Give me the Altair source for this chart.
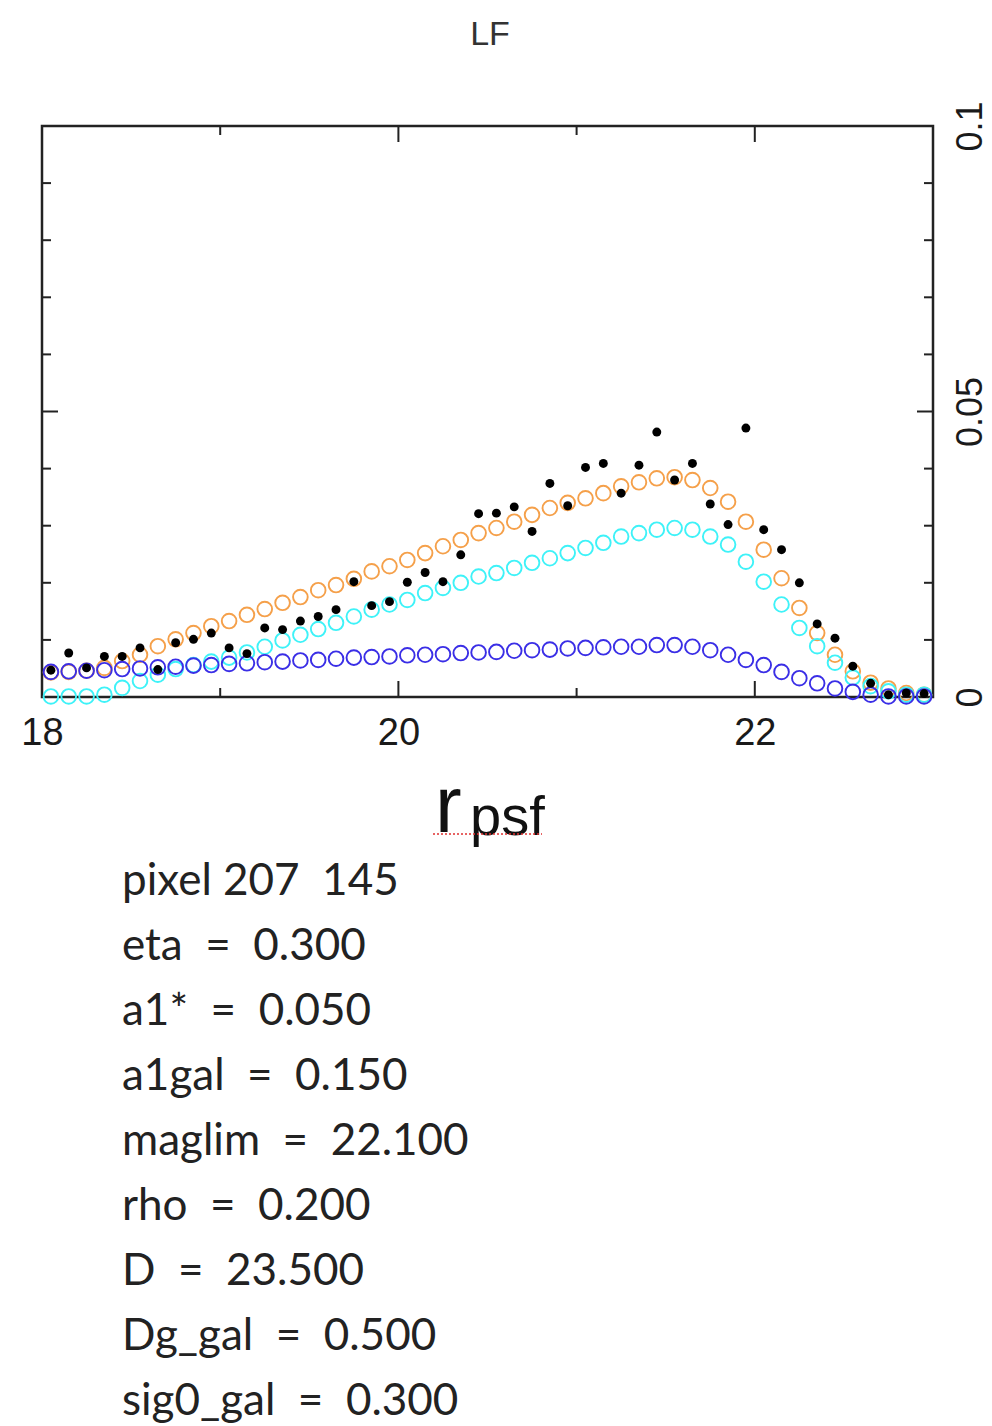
import altair as alt
import pandas as pd

# ---- data ----
r_bins = [18.05, 18.15, 18.25, 18.35, 18.45, 18.55, 18.65, 18.75, 18.85, 18.95,
          19.05, 19.15, 19.25, 19.35, 19.45, 19.55, 19.65, 19.75, 19.85, 19.95,
          20.05, 20.15, 20.25, 20.35, 20.45, 20.55, 20.65, 20.75, 20.85, 20.95,
          21.05, 21.15, 21.25, 21.35, 21.45, 21.55, 21.65, 21.75, 21.85, 21.95,
          22.05, 22.15, 22.25, 22.35, 22.45, 22.55, 22.65, 22.75, 22.85, 22.95]

model_total = [0.0043, 0.0044, 0.0046, 0.0051, 0.0063, 0.0074, 0.0089, 0.0101, 0.0112, 0.0124,
               0.0133, 0.0144, 0.0154, 0.0165, 0.0175, 0.0187, 0.0196, 0.0207, 0.0220, 0.0229,
               0.0240, 0.0252, 0.0264, 0.0275, 0.0287, 0.0296, 0.0307, 0.0319, 0.0331, 0.0340,
               0.0348, 0.0357, 0.0369, 0.0376, 0.0383, 0.0385, 0.0380, 0.0366, 0.0342, 0.0307,
               0.0258, 0.0208, 0.0156, 0.0112, 0.0074, 0.0045, 0.0025, 0.0015, 0.0007, 0.0004]

model_gal = [0.0001, 0.0001, 0.0001, 0.0004, 0.0016, 0.0028, 0.0039, 0.0049, 0.0056, 0.0062,
             0.0069, 0.0078, 0.0088, 0.0099, 0.0109, 0.0119, 0.0130, 0.0141, 0.0153, 0.0162,
             0.0170, 0.0182, 0.0191, 0.0200, 0.0211, 0.0217, 0.0226, 0.0235, 0.0243, 0.0252,
             0.0261, 0.0270, 0.0281, 0.0287, 0.0293, 0.0296, 0.0293, 0.0281, 0.0267, 0.0237,
             0.0202, 0.0162, 0.0121, 0.0089, 0.0060, 0.0034, 0.0019, 0.0010, 0.0004, 0.0004]

model_star = [0.0044, 0.0045, 0.0046, 0.0047, 0.0049, 0.0050, 0.0052, 0.0053, 0.0055, 0.0056,
              0.0058, 0.0059, 0.0061, 0.0062, 0.0064, 0.0065, 0.0067, 0.0069, 0.0070, 0.0071,
              0.0073, 0.0074, 0.0075, 0.0077, 0.0078, 0.0079, 0.0081, 0.0082, 0.0083, 0.0085,
              0.0086, 0.0087, 0.0088, 0.0088, 0.0091, 0.0091, 0.0088, 0.0082, 0.0074, 0.0065,
              0.0056, 0.0044, 0.0033, 0.0024, 0.0015, 0.0009, 0.0004, 0.0001, 0.0001, 0.0001]

observed = [0.0047, 0.0077, 0.0051, 0.0071, 0.0071, 0.0086, 0.0048, 0.0095, 0.0101, 0.0112,
            0.0086, 0.0076, 0.0121, 0.0118, 0.0133, 0.0141, 0.0153, 0.0202, 0.0160, 0.0167,
            0.0201, 0.0218, 0.0202, 0.0249, 0.0321, 0.0322, 0.0333, 0.0290, 0.0374, 0.0335,
            0.0402, 0.0409, 0.0357, 0.0406, 0.0464, 0.0380, 0.0409, 0.0338, 0.0302, 0.0471,
            0.0293, 0.0258, 0.0200, 0.0128, 0.0103, 0.0054, 0.0024, 0.0004, 0.0007, 0.0006]

x_label_values = [18, 20, 22]
x_major_ticks = [20, 22]
x_minor_ticks = [19, 21]
y_label_values = [0, 0.05, 0.1]
y_major_ticks = [0.05]
y_minor_ticks = [0.01, 0.02, 0.03, 0.04, 0.06, 0.07, 0.08, 0.09]

title_text = "LF"
xtitle_main = "r"
xtitle_sub = "psf"
NB = "\u00a0"
info_lines = [f"pixel 207{NB} 145", f"eta{NB} ={NB} 0.300", f"a1*{NB} ={NB} 0.050",
              f"a1gal{NB} ={NB} 0.150", f"maglim{NB} ={NB} 22.100", f"rho{NB} ={NB} 0.200",
              f"D{NB} ={NB} 23.500", f"Dg_gal{NB} ={NB} 0.500", f"sig0_gal{NB} ={NB} 0.300"]

# ---- chart ----
W, H = 891, 571
df = pd.DataFrame({"r": r_bins, "total": model_total, "gal": model_gal,
                   "star": model_star, "obs": observed})

xscale = alt.Scale(domain=[18, 23], nice=False, zero=False)
yscale = alt.Scale(domain=[0, 0.1], nice=False, zero=False)
xaxis = alt.Axis(values=x_label_values, format="d", title=None, ticks=False, domain=False,
                 grid=False, labelFontSize=38, labelFont="Liberation Sans", labelColor="#1a1a1a",
                 labelPadding=17, labelBaseline="top", labelAlign="center", labelFlush=False)
yaxis = alt.Axis(values=y_label_values, format="~g", orient="right", title=None, ticks=False,
                 domain=False, grid=False, labelFontSize=36, labelFont="Liberation Sans",
                 labelColor="#1a1a1a", labelAngle=270, labelAlign="center", labelBaseline="top",
                 labelPadding=20, labelFlush=False)

base = alt.Chart(df)


def circles(field, color):
    return base.mark_point(shape="circle", filled=False, size=215, strokeWidth=1.9,
                           color=color, opacity=1).encode(
        x=alt.X("r:Q", scale=xscale, axis=xaxis),
        y=alt.Y(f"{field}:Q", scale=yscale, axis=yaxis),
    )


orange = circles("total", "#f5a04a")
cyan = circles("gal", "#3ef2f8")
blue = circles("star", "#3a2ee6")
black = base.mark_point(shape="circle", filled=True, size=80, color="#000000", opacity=1).encode(
    x=alt.X("r:Q", scale=xscale, axis=xaxis),
    y=alt.Y("obs:Q", scale=yscale, axis=yaxis),
)


def xticks(vals, length):
    d = pd.DataFrame({"v": vals})
    bottom = alt.Chart(d).mark_rule(color="#222", strokeWidth=2).encode(
        x=alt.X("v:Q", scale=xscale, axis=xaxis), y=alt.value(H), y2=alt.value(H - length))
    top = alt.Chart(d).mark_rule(color="#222", strokeWidth=2).encode(
        x=alt.X("v:Q", scale=xscale, axis=xaxis), y=alt.value(0), y2=alt.value(length))
    return bottom + top


def yticks(vals, length):
    d = pd.DataFrame({"v": vals})
    left = alt.Chart(d).mark_rule(color="#222", strokeWidth=2).encode(
        y=alt.Y("v:Q", scale=yscale, axis=yaxis), x=alt.value(0), x2=alt.value(length))
    right = alt.Chart(d).mark_rule(color="#222", strokeWidth=2).encode(
        y=alt.Y("v:Q", scale=yscale, axis=yaxis), x=alt.value(W), x2=alt.value(W - length))
    return left + right


one = pd.DataFrame({"k": [0]})
title = alt.Chart(one).mark_text(text=title_text, fontSize=34, font="Liberation Sans",
                                 color="#333", align="center", baseline="alphabetic").encode(
    x=alt.value(448), y=alt.value(-81))
xt_r = alt.Chart(one).mark_text(text=xtitle_main, fontSize=80, font="Liberation Sans",
                                color="#111", align="left", baseline="alphabetic").encode(
    x=alt.value(393), y=alt.value(706))
xt_sub = alt.Chart(one).mark_text(text=xtitle_sub, fontSize=56, font="Liberation Sans",
                                  color="#111", align="left", baseline="alphabetic").encode(
    x=alt.value(428), y=alt.value(709))
squiggle = alt.Chart(one).mark_rule(color="#e03030", strokeWidth=1.5, strokeDash=[2, 2]).encode(
    x=alt.value(391), x2=alt.value(500), y=alt.value(708))
info = alt.Chart(one).mark_text(text=info_lines, fontSize=44, font="Lato", color="#222",
                                align="left", baseline="alphabetic", lineHeight=65).encode(
    x=alt.value(80), y=alt.value(769))

chart = alt.layer(
    xticks(x_major_ticks, 16), xticks(x_minor_ticks, 9),
    yticks(y_major_ticks, 16), yticks(y_minor_ticks, 9),
    orange, cyan, blue, black,
    title, xt_r, xt_sub, squiggle, info,
).properties(
    width=W, height=H,
    background="white",
    autosize=alt.AutoSizeParams(type="none"),
    padding={"left": 42, "top": 126, "right": 59, "bottom": 729},
).configure_view(stroke="#222", strokeWidth=2.5)

chart.save("out.html", embed_options={"renderer": "svg", "actions": False})
